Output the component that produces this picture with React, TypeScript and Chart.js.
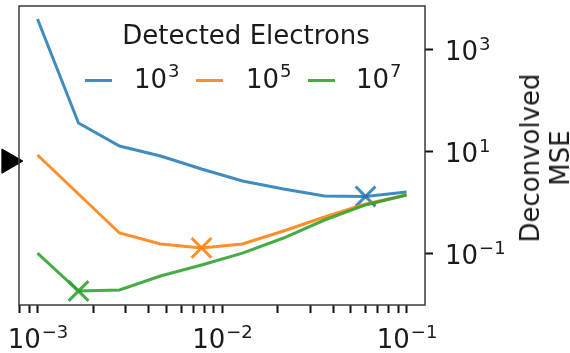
import React, { useEffect, useRef } from 'react';
import { Chart, registerables } from 'chart.js';

Chart.register(...registerables);

// ---- data ----
const xValues = [0.001, 0.0016681, 0.0027826, 0.0046416, 0.0077426, 0.0129155, 0.0215443, 0.0359381, 0.0599484, 0.1];
const seriesExponents = ['3', '5', '7'];
const mse1e3 = [4070, 36.6, 12.9, 8.2, 4.54, 2.64, 1.84, 1.34, 1.31, 1.6];
const mse1e5 = [8.57, 1.46, 0.25, 0.152, 0.127, 0.152, 0.274, 0.516, 0.93, 1.4];
const mse1e7 = [0.1, 0.018, 0.0189, 0.0356, 0.0586, 0.1, 0.199, 0.45, 0.89, 1.4];
const markerIndex = [8, 4, 1];
const arrowX = [0.0007];
const arrowY = [6.5];

const xMajorTicks = [0.001, 0.01, 0.1];
const xMajorExponents = ['−3', '−2', '−1'];
const xMinorTicks = [0.0008, 0.0009, 0.002, 0.003, 0.004, 0.005, 0.006, 0.007, 0.008, 0.009,
  0.02, 0.03, 0.04, 0.05, 0.06, 0.07, 0.08, 0.09];
const yTicks = [0.1, 10, 1000];
const yTickExponents = ['−1', '1', '3'];
const xRange = [0.000794, 0.1259];
const yRange = [0.00955, 7345];

const seriesValues = [mse1e3, mse1e5, mse1e7];
const colors = ['rgba(31,119,180,0.85)', 'rgba(255,127,14,0.88)', 'rgba(44,160,44,0.88)'];
const FONT = 'DejaVu Sans';
const TEXT = '#1a1a1a';
const BASE_SIZE = 26;
const EXP_SIZE = 18;

const framePlugin = {
  id: 'frame',
  afterDatasetsDraw(chart: any) {
    const { ctx, chartArea: a } = chart;
    ctx.save();
    ctx.strokeStyle = '#3a3a3a';
    ctx.lineWidth = 1.5;
    ctx.strokeRect(a.left, a.top, a.right - a.left, a.bottom - a.top);
    ctx.restore();
  },
};

// tick labels "10" with a raised exponent, drawn as canvas text
function drawPower(ctx: CanvasRenderingContext2D, exp: string, x: number, baseline: number, align: 'left' | 'center') {
  ctx.font = `${BASE_SIZE}px "${FONT}"`;
  const wb = ctx.measureText('10').width;
  ctx.font = `${EXP_SIZE}px "${FONT}"`;
  const we = ctx.measureText(exp).width;
  const x0 = align === 'center' ? x - (wb + we) / 2 : x;
  ctx.textAlign = 'left';
  ctx.textBaseline = 'alphabetic';
  ctx.fillStyle = TEXT;
  ctx.font = `${BASE_SIZE}px "${FONT}"`;
  ctx.fillText('10', x0, baseline);
  ctx.font = `${EXP_SIZE}px "${FONT}"`;
  ctx.fillText(exp, x0 + wb + 1, baseline - 10);
}

const powerLabelsPlugin = {
  id: 'powerLabels',
  afterDraw(chart: any) {
    const { ctx, chartArea: a, scales } = chart;
    ctx.save();
    xMajorTicks.forEach((v, i) => {
      drawPower(ctx, xMajorExponents[i], scales.x.getPixelForValue(v), a.bottom + 43, 'center');
    });
    yTicks.forEach((v, i) => {
      drawPower(ctx, yTickExponents[i], a.right + 20, scales.y.getPixelForValue(v) + 10.5, 'left');
    });
    ctx.restore();
  },
};

export default function App() {
  const ref = useRef<HTMLCanvasElement>(null);

  useEffect(() => {
    const lineSets = seriesValues.map((vals, i) => ({
      label: '10^' + seriesExponents[i],
      data: xValues.map((x, j) => ({ x, y: vals[j] })),
      borderColor: colors[i],
      backgroundColor: colors[i],
      pointBorderColor: colors[i],
      borderWidth: 3,
      tension: 0,
      fill: false,
      pointStyle: 'crossRot',
      pointRadius: (c: any) => (c.dataIndex === markerIndex[i] ? 14 : 0),
      pointBorderWidth: 3,
      pointHoverRadius: 0,
      order: 2 - i,
    }));
    const arrowSet = {
      label: 'arrow',
      data: arrowX.map((x, j) => ({ x, y: arrowY[j] })),
      showLine: false,
      pointStyle: 'triangle',
      pointRotation: 90,
      pointRadius: 14,
      pointBackgroundColor: '#000',
      pointBorderColor: '#000',
      pointBorderWidth: 1,
      clip: false,
      order: 5,
    };

    const chart = new Chart(ref.current!, {
      type: 'line',
      data: { datasets: [...lineSets, arrowSet] as any },
      options: {
        responsive: false,
        animation: false,
        layout: { autoPadding: false, padding: { left: 19, top: 6, right: 0, bottom: 0 } },
        plugins: { legend: { display: false }, tooltip: { enabled: false } },
        scales: {
          x: {
            type: 'logarithmic',
            min: xRange[0],
            max: xRange[1],
            border: { display: false },
            grid: { drawOnChartArea: false, drawTicks: true, tickLength: 8, tickWidth: 2, tickColor: '#111' },
            afterBuildTicks: (s: any) => {
              const all = [...xMinorTicks, ...xMajorTicks].sort((p, q) => p - q);
              s.ticks = all.map((v) => ({ value: v }));
            },
            afterFit: (s: any) => {
              s.height = 48;
              s.paddingLeft = 0;
              s.paddingRight = 0;
            },
            ticks: { display: false, autoSkip: false, maxRotation: 0, minRotation: 0 },
          },
          y: {
            type: 'logarithmic',
            position: 'right',
            min: yRange[0],
            max: yRange[1],
            border: { display: false },
            grid: { drawOnChartArea: false, drawTicks: true, tickLength: 8, tickWidth: 2, tickColor: '#111' },
            afterBuildTicks: (s: any) => {
              s.ticks = yTicks.map((v) => ({ value: v }));
            },
            afterFit: (s: any) => {
              s.width = 145;
              s.paddingTop = 0;
              s.paddingBottom = 0;
            },
            ticks: { display: false, autoSkip: false },
          },
        },
      },
      plugins: [framePlugin, powerLabelsPlugin],
    } as any);
    return () => chart.destroy();
  }, []);

  const textStyle: React.CSSProperties = {
    position: 'absolute',
    fontFamily: FONT,
    fontSize: 26,
    lineHeight: '26px',
    color: TEXT,
    whiteSpace: 'nowrap',
    pointerEvents: 'none',
  };
  const swatchLeft = [85, 196, 308];
  const labelLeft = [134, 246, 356];

  return (
    <div style={{ position: 'fixed', left: 0, top: 0, width: 570, height: 353, background: '#fff', overflow: 'hidden' }}>
      <canvas ref={ref} width={570} height={353} style={{ display: 'block', width: 570, height: 353 }} />
      <div style={{ ...textStyle, left: 246, top: 22, transform: 'translateX(-50%)' }}>Detected Electrons</div>
      {seriesExponents.map((e, i) => (
        <React.Fragment key={e}>
          <div style={{ position: 'absolute', left: swatchLeft[i], top: 78.5, width: 27, height: 3, background: colors[i] }} />
          <div style={{ ...textStyle, left: labelLeft[i], top: 66 }}>
            10<span style={{ fontSize: EXP_SIZE, position: 'relative', top: -11, marginLeft: 1 }}>{e}</span>
          </div>
        </React.Fragment>
      ))}
      <div
        style={{
          ...textStyle,
          lineHeight: '30px',
          left: 545,
          top: 158,
          textAlign: 'center',
          transform: 'translate(-50%, -50%) rotate(-90deg)',
        }}
      >
        Deconvolved
        <br />
        MSE
      </div>
    </div>
  );
}
